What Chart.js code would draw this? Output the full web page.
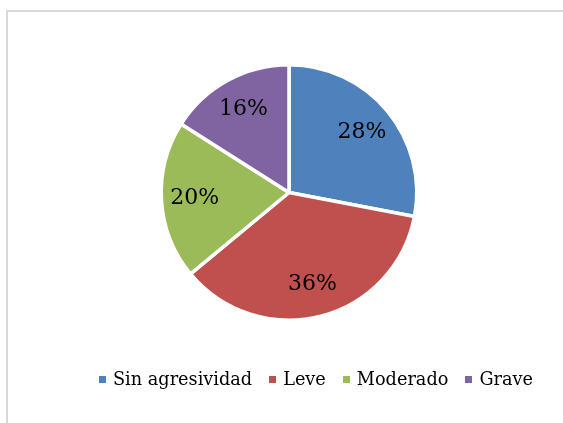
<!DOCTYPE html>
<html>
<head>
<meta charset="utf-8">
<script src="https://cdn.jsdelivr.net/npm/chart.js"></script>
<style>
  html, body { margin: 0; padding: 0; background: #fff; overflow: hidden; }
  body { width: 563px; height: 423px; position: relative; }
  .rule { position: absolute; background: #d9d9d9; }
  #topRule { left: 6px; top: 10px; width: 557px; height: 2px; }
  #leftRule { left: 6px; top: 10px; width: 2px; height: 413px; }
  #wrap { position: absolute; left: 0; top: 0; width: 563px; height: 423px; }
  #legend {
    position: absolute; left: 99px; top: 369px;
    display: flex; align-items: center; white-space: nowrap;
    font-family: "DejaVu Serif", serif; font-size: 17.7px; color: #000;
  }
  #legend .item { display: flex; align-items: center; margin-right: 17px; }
  #legend .box { width: 7px; height: 7px; margin-right: 7px; }
</style>
</head>
<body>
<div class="rule" id="topRule"></div>
<div class="rule" id="leftRule"></div>
<div id="wrap"><canvas id="chart"></canvas></div>
<div id="legend"></div>
<script>
const labels = ["Sin agresividad", "Leve", "Moderado", "Grave"];
const values = [28, 36, 20, 16];
const colors = ["#4F81BD", "#C0504D", "#9BBB59", "#8064A2"];

// percentage labels inside the slices
const sliceLabels = {
  id: "sliceLabels",
  afterDatasetsDraw(chart) {
    const ctx = chart.ctx;
    const meta = chart.getDatasetMeta(0);
    ctx.save();
    ctx.font = "22px 'DejaVu Serif', serif";
    ctx.fillStyle = "#000";
    ctx.textAlign = "center";
    ctx.textBaseline = "middle";
    meta.data.forEach((arc, i) => {
      const p = arc.getProps(["x", "y", "startAngle", "endAngle", "outerRadius"], true);
      const mid = (p.startAngle + p.endAngle) / 2;
      const r = p.outerRadius * 0.74;
      ctx.fillText(values[i] + "%", p.x + Math.cos(mid) * r, p.y + Math.sin(mid) * r);
    });
    ctx.restore();
  }
};

new Chart(document.getElementById("chart"), {
  type: "pie",
  data: {
    labels,
    datasets: [{
      data: values,
      backgroundColor: colors,
      borderColor: "#fff",
      borderWidth: 3.5
    }]
  },
  options: {
    responsive: true,
    maintainAspectRatio: false,
    animation: false,
    layout: { padding: { top: 63, bottom: 101, left: 15, right: 0 } },
    plugins: {
      legend: { display: false },
      tooltip: { enabled: false }
    }
  },
  plugins: [sliceLabels]
});

const legend = document.getElementById("legend");
labels.forEach((l, i) => {
  const item = document.createElement("div");
  item.className = "item";
  const box = document.createElement("span");
  box.className = "box";
  box.style.background = colors[i];
  const txt = document.createElement("span");
  txt.textContent = l;
  item.appendChild(box);
  item.appendChild(txt);
  legend.appendChild(item);
});
</script>
</body>
</html>
